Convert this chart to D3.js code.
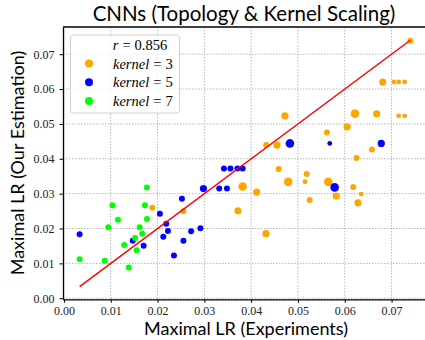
<!DOCTYPE html>
<html>
<head>
<meta charset="utf-8">
<script src="https://cdn.jsdelivr.net/npm/d3@7"></script>
<style>
    html, body { margin: 0; padding: 0; background: #fff; }
    svg { display: block; }
    .tick text { font-family: 'Liberation Serif', serif; font-size: 12px; fill: #222; }
</style>
</head>
<body>
<div id="chart"></div>
<script>
// data: [x = LR experiments, y = LR estimation, size level]
const kernel3 = [
    [0.01887, 0.02596, 2], [0.02553, 0.02493, 2], [0.03818, 0.03203, 4], [0.04118, 0.03046, 3],
    [0.03718, 0.02510, 3], [0.04316, 0.01851, 3], [0.04588, 0.03705, 2], [0.04791, 0.03338, 4],
    [0.05186, 0.03562, 2], [0.05150, 0.03341, 1], [0.05250, 0.02817, 2], [0.05647, 0.03338, 4],
    [0.05818, 0.02931, 3], [0.06182, 0.03189, 2], [0.06350, 0.02989, 1], [0.06282, 0.02739, 3],
    [0.06250, 0.04026, 2], [0.06581, 0.04264, 2], [0.04321, 0.04393, 2], [0.04551, 0.04393, 3],
    [0.05620, 0.04756, 2], [0.06051, 0.04917, 3], [0.04722, 0.05232, 3], [0.06218, 0.05295, 4],
    [0.06682, 0.05290, 3], [0.07152, 0.05232, 1], [0.07280, 0.05232, 1], [0.06812, 0.06203, 3],
    [0.07051, 0.06203, 1], [0.07152, 0.06203, 1], [0.07280, 0.06203, 1], [0.07400, 0.07387, 2]
];
const kernel5 = [
    [0.00335, 0.01834, 2], [0.01470, 0.01650, 2], [0.01703, 0.01507, 2], [0.02051, 0.02424, 2],
    [0.02186, 0.02135, 2], [0.02222, 0.01928, 2], [0.02122, 0.01762, 2], [0.02350, 0.01226, 2],
    [0.02521, 0.02854, 2], [0.02553, 0.01650, 2], [0.02718, 0.01920, 2], [0.02917, 0.02009, 2],
    [0.02981, 0.03146, 3], [0.03318, 0.03146, 2], [0.03483, 0.03146, 2], [0.03419, 0.03725, 2],
    [0.03558, 0.03725, 2], [0.03707, 0.03725, 2], [0.03818, 0.03725, 2], [0.04829, 0.04441, 4],
    [0.05680, 0.04441, 1], [0.06780, 0.04441, 3], [0.05784, 0.03180, 4]
];
const kernel7 = [
    [0.01774, 0.03175, 2], [0.01036, 0.02665, 2], [0.01731, 0.02665, 2], [0.01154, 0.02249, 2],
    [0.01774, 0.02272, 2], [0.00951, 0.02034, 2], [0.01618, 0.02034, 2], [0.01673, 0.01851, 2],
    [0.01521, 0.01728, 2], [0.01288, 0.01527, 2], [0.01553, 0.01378, 2], [0.00335, 0.01120, 2],
    [0.00872, 0.01077, 2], [0.01385, 0.00883, 2]
];
const seriesNames = ['kernel = 3', 'kernel = 5', 'kernel = 7'];
const seriesColors = ['#FFA500', '#0000FF', '#00FF00'];
const xTicks = [0, 0.01, 0.02, 0.03, 0.04, 0.05, 0.06, 0.07];
const yTicks = [0, 0.01, 0.02, 0.03, 0.04, 0.05, 0.06, 0.07];
const corr = '0.856';

const W = 425, H = 340;
const pLeft = 63, pTop = 27, pBottom = 299.3, pRight = 429;

const svg = d3.select('#chart')
    .append('svg')
    .attr('width', W)
    .attr('height', H);

const xScale = d3.scaleLinear()
    .domain([-0.0002, 0.0780])
    .range([pLeft, pRight]);

const yScale = d3.scaleLinear()
    .domain([-0.0003, 0.0778])
    .range([pBottom, pTop]);

const rScale = d3.scaleOrdinal([1, 2, 3, 4], [2.4, 3.0, 3.6, 4.3]);

//#region grid
const gGrid = svg.append('g').classed('grid', true);
gGrid.selectAll('.gx')
    .data(xTicks)
    .enter()
    .append('line')
    .attr('x1', d => xScale(d)).attr('x2', d => xScale(d))
    .attr('y1', pTop).attr('y2', pBottom)
gGrid.selectAll('.gy')
    .data(yTicks)
    .enter()
    .append('line')
    .attr('x1', pLeft).attr('x2', pRight)
    .attr('y1', d => yScale(d)).attr('y2', d => yScale(d))
gGrid.selectAll('line')
    .attr('stroke', '#b0b0b0')
    .attr('stroke-width', 0.9)
    .attr('stroke-dasharray', '1.5,1.5')
//#endregion

//#region points + fit line
const allSeries = [kernel3, kernel5, kernel7];
allSeries.forEach((series, i) => {
    svg.append('g')
        .selectAll('circle')
        .data(series)
        .enter()
        .append('circle')
        .attr('cx', d => xScale(d[0]))
        .attr('cy', d => yScale(d[1]))
        .attr('r', d => rScale(d[2]))
        .attr('fill', seriesColors[i])
})

const xExt = d3.extent(allSeries.flat(), d => d[0]);
svg.append('line')
    .attr('x1', xScale(xExt[0])).attr('y1', yScale(xExt[0]))
    .attr('x2', xScale(xExt[1])).attr('y2', yScale(xExt[1]))
    .attr('stroke', '#FF0000')
    .attr('stroke-width', 1.4)
//#endregion

//#region axes
svg.append('g')
    .attr('transform', `translate(0, ${pBottom})`)
    .call(d3.axisBottom(xScale).tickValues(xTicks).tickFormat(d3.format('.2f')).tickSize(3.5).tickPadding(4).tickSizeOuter(0))
svg.append('g')
    .attr('transform', `translate(${pLeft}, 0)`)
    .call(d3.axisLeft(yScale).tickValues(yTicks).tickFormat(d3.format('.2f')).tickSize(3.5).tickPadding(5).tickSizeOuter(0))
svg.selectAll('.domain').attr('stroke', '#000').attr('stroke-width', 1.3)
svg.append('line')
    .attr('x1', pLeft).attr('x2', W)
    .attr('y1', pTop).attr('y2', pTop)
    .attr('stroke', '#000')
    .attr('stroke-width', 1.3)
//#endregion

//#region texts
svg.append('text')
    .attr('x', 244).attr('y', 21)
    .attr('text-anchor', 'middle')
    .style('font-family', 'Lato, sans-serif')
    .style('font-size', '20.5px')
    .text('CNNs (Topology & Kernel Scaling)')

svg.append('text')
    .attr('x', 246).attr('y', 335)
    .attr('text-anchor', 'middle')
    .style('font-family', 'Lato, sans-serif')
    .style('font-size', '18px')
    .text('Maximal LR (Experiments)')

svg.append('text')
    .attr('transform', `translate(24, 163) rotate(-90)`)
    .attr('text-anchor', 'middle')
    .style('font-family', 'Lato, sans-serif')
    .style('font-size', '18px')
    .text('Maximal LR (Our Estimation)')
//#endregion

//#region legend
const gLegend = svg.append('g').classed('legend', true);
gLegend.append('rect')
    .attr('x', 70.5).attr('y', 35)
    .attr('width', 109).attr('height', 78)
    .attr('rx', 3)
    .attr('fill', 'rgba(255,255,255,0.8)')
    .attr('stroke', '#d0d0d0')

const rText = gLegend.append('text')
    .attr('x', 140).attr('y', 50)
    .attr('text-anchor', 'middle')
    .style('font-family', 'Liberation Serif, serif')
    .style('font-size', '14.5px')
rText.append('tspan').style('font-style', 'italic').text('r')
rText.append('tspan').attr('dx', 4).text('=')
rText.append('tspan').attr('dx', 4).text(corr)

seriesNames.forEach((name, i) => {
    const yPos = 63.5 + i * 18.8;
    gLegend.append('circle')
        .attr('cx', 89).attr('cy', yPos)
        .attr('r', 4)
        .attr('fill', seriesColors[i])
    const [word, val] = name.split(' = ');
    const t = gLegend.append('text')
        .attr('x', 113).attr('y', yPos + 5)
        .style('font-family', 'Liberation Serif, serif')
        .style('font-size', '14.5px')
    t.append('tspan').style('font-style', 'italic').text(word)
    t.append('tspan').attr('dx', 4).text('=')
    t.append('tspan').attr('dx', 4).text(val)
})
//#endregion
</script>
</body>
</html>
